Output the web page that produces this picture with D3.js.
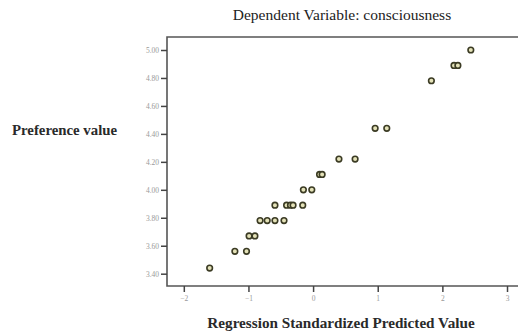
<!DOCTYPE html>
<html>
<head>
<meta charset="utf-8">
<script src="https://cdn.jsdelivr.net/npm/d3@7"></script>
<style>
  body { margin: 0; background: #fff; }
  text { font-family: "Liberation Serif", "Times New Roman", serif; }
</style>
</head>
<body>
<div id="chart"></div>
<script>
// standardized predicted value vs observed preference value
const predicted = [-1.60, -1.21, -1.03, -0.99, -0.90, -0.82, -0.71, -0.59, -0.45,
  -0.59, -0.41, -0.35, -0.31, -0.16, -0.15, -0.02, 0.10, 0.14,
  0.40, 0.65, 0.96, 1.14, 1.83, 2.18, 2.24, 2.44];
const preference = [3.44, 3.56, 3.56, 3.67, 3.67, 3.78, 3.78, 3.78, 3.78,
  3.89, 3.89, 3.89, 3.89, 3.89, 4.00, 4.00, 4.11, 4.11,
  4.22, 4.22, 4.44, 4.44, 4.78, 4.89, 4.89, 5.00];
const xTicks = [-2, -1, 0, 1, 2, 3];
const yTicks = [3.4, 3.6, 3.8, 4.0, 4.2, 4.4, 4.6, 4.8, 5.0];

const width = 518, height = 331;
const plotL = 167, plotT = 37, plotR = 518, plotB = 286;

const svg = d3.select("#chart").append("svg")
  .attr("width", width)
  .attr("height", height);

const x = d3.scaleLinear().domain([-2.26, 3.17]).range([plotL, plotR]);
const y = d3.scaleLinear().domain([3.312, 5.093]).range([plotB, plotT]);

// frame
svg.append("path")
  .attr("d", `M${plotR},${plotT}H${plotL}V${plotB}H${plotR}`)
  .attr("fill", "none")
  .attr("stroke", "#555")
  .attr("stroke-width", 1.6);

const xAxis = svg.append("g")
  .attr("transform", `translate(0,${plotB})`)
  .call(d3.axisBottom(x).tickValues(xTicks).tickSize(6).tickPadding(4).tickFormat(d3.format("d")));
const yAxis = svg.append("g")
  .attr("transform", `translate(${plotL},0)`)
  .call(d3.axisLeft(y).tickValues(yTicks).tickSize(6).tickPadding(2).tickFormat(d3.format(".2f")));

[xAxis, yAxis].forEach(a => {
  a.select(".domain").remove();
  a.selectAll(".tick line").attr("stroke", "#444").attr("stroke-width", 1.5);
  a.selectAll(".tick text")
    .attr("fill", "#999")
    .style("font-size", "7.5px")
    .style("font-family", "'Liberation Serif', serif");
});

svg.selectAll("circle.pt")
  .data(predicted.map((p, i) => [p, preference[i]]))
  .enter().append("circle")
  .attr("class", "pt")
  .attr("cx", d => x(d[0]))
  .attr("cy", d => y(d[1]))
  .attr("r", 2.8)
  .attr("fill", "#e4e2b8")
  .attr("stroke", "#3b3b24")
  .attr("stroke-width", 1.6);

svg.append("text")
  .attr("x", 342).attr("y", 20)
  .attr("text-anchor", "middle")
  .style("font-size", "15.5px")
  .attr("fill", "#222")
  .text("Dependent Variable: consciousness");

svg.append("text")
  .attr("x", 12).attr("y", 135)
  .style("font-size", "14.8px")
  .style("font-weight", "bold")
  .attr("fill", "#2a2a2a")
  .text("Preference value");

svg.append("text")
  .attr("x", 341).attr("y", 328)
  .attr("text-anchor", "middle")
  .style("font-size", "15.2px")
  .style("font-weight", "bold")
  .attr("fill", "#2a2a2a")
  .text("Regression Standardized Predicted Value");
</script>
</body>
</html>
